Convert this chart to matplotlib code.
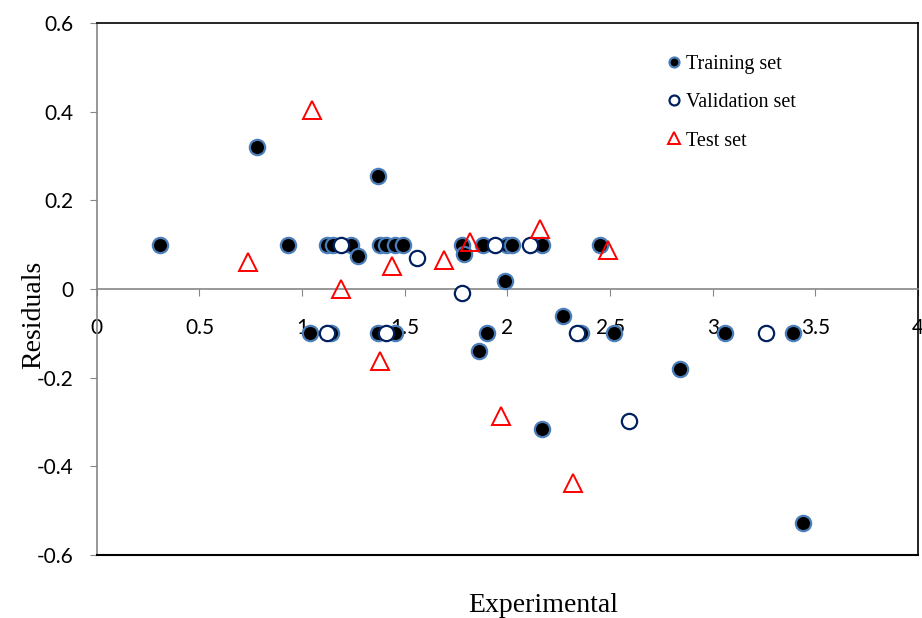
import matplotlib
matplotlib.use('Agg')
import matplotlib.pyplot as plt
import numpy as np

# 訓練データ (Experimental, Residuals)
train_x = [0.31, 0.78, 0.93, 1.04, 1.12, 1.14, 1.15, 1.24, 1.27, 1.37, 1.37, 1.38, 1.41,
           1.45, 1.45, 1.49, 1.78, 1.79, 1.86, 1.88, 1.90, 1.99, 2.00, 2.02, 2.17, 2.17,
           2.27, 2.36, 2.45, 2.52, 2.84, 3.06, 3.39, 3.44]
train_y = [0.10, 0.32, 0.10, -0.10, 0.10, -0.10, 0.10, 0.10, 0.075, 0.255, -0.10, 0.10, 0.10,
           0.10, -0.10, 0.10, 0.10, 0.08, -0.14, 0.10, -0.10, 0.018, 0.10, 0.10, 0.10, -0.316,
           -0.06, -0.10, 0.10, -0.10, -0.18, -0.10, -0.10, -0.528]

# 検証データ
valid_x = [1.12, 1.19, 1.41, 1.56, 1.78, 1.94, 2.11, 2.34, 2.59, 3.26]
valid_y = [-0.10, 0.10, -0.10, 0.07, -0.008, 0.10, 0.10, -0.10, -0.298, -0.10]

# テストデータ
test_x = [0.735, 1.05, 1.19, 1.38, 1.44, 1.69, 1.82, 1.97, 2.16, 2.32, 2.49]
test_y = [0.061, 0.404, 0.0, -0.163, 0.052, 0.065, 0.106, -0.287, 0.135, -0.437, 0.088]

x_ticks = [0, 0.5, 1, 1.5, 2, 2.5, 3, 3.5, 4]
y_ticks = [-0.6, -0.4, -0.2, 0, 0.2, 0.4, 0.6]

serif = ['Liberation Serif', 'DejaVu Serif']
sans = ['Lato', 'DejaVu Sans']

fig = plt.figure(figsize=(9.22, 6.18), dpi=100)
ax = fig.add_axes([0.105, 0.102, 0.8907, 0.8608])

# 軸線 (set_position はティックをリセットするので先に)
ax.spines['bottom'].set_position(('data', 0))
ax.spines['bottom'].set_color('#868686')
ax.spines['left'].set_color('#868686')
ax.spines['top'].set_color('black')
ax.spines['right'].set_color('black')
for s in ax.spines.values():
    s.set_linewidth(1.2)
ax.axhline(-0.6, color='black', lw=1.5, clip_on=False, zorder=6)

ax.plot(train_x, train_y, 'o', ms=11, mfc='black', mec='#4A7EBB', mew=1.6,
        label='Training set', zorder=3)
ax.plot(valid_x, valid_y, 'o', ms=11, mfc='white', mec='#002060', mew=1.6,
        label='Validation set', zorder=4)
ax.plot(test_x, test_y, '^', ms=12.5, mfc='none', mec='red', mew=1.4,
        label='Test set', zorder=5)

ax.set_xlim(0, 4)
ax.set_ylim(-0.6, 0.6)
ax.set_xticks(x_ticks)
ax.set_xticklabels([f'{t:g}' for t in x_ticks], fontfamily=sans, fontsize=15)
ax.set_yticks(y_ticks)
ax.set_yticklabels([f'{t:g}' for t in y_ticks], fontfamily=sans, fontsize=15)
ax.tick_params(axis='x', direction='out', length=5, color='#868686', pad=16)
ax.tick_params(axis='y', direction='out', length=5, color='#868686', pad=12)

ax.set_xlabel('Experimental', fontfamily=serif, fontsize=20)
ax.set_ylabel('Residuals', fontfamily=serif, fontsize=20)
ax.xaxis.set_label_coords(0.544, -0.072)
ax.yaxis.set_label_coords(-0.062, 0.451)

leg = ax.legend(loc='upper left', bbox_to_anchor=(0.674, 0.974), frameon=False,
                markerscale=0.65, handlelength=0.6, handletextpad=0.25,
                labelspacing=0.95, prop={'family': serif, 'size': 14.5})

fig.savefig('out.png', dpi=100)
